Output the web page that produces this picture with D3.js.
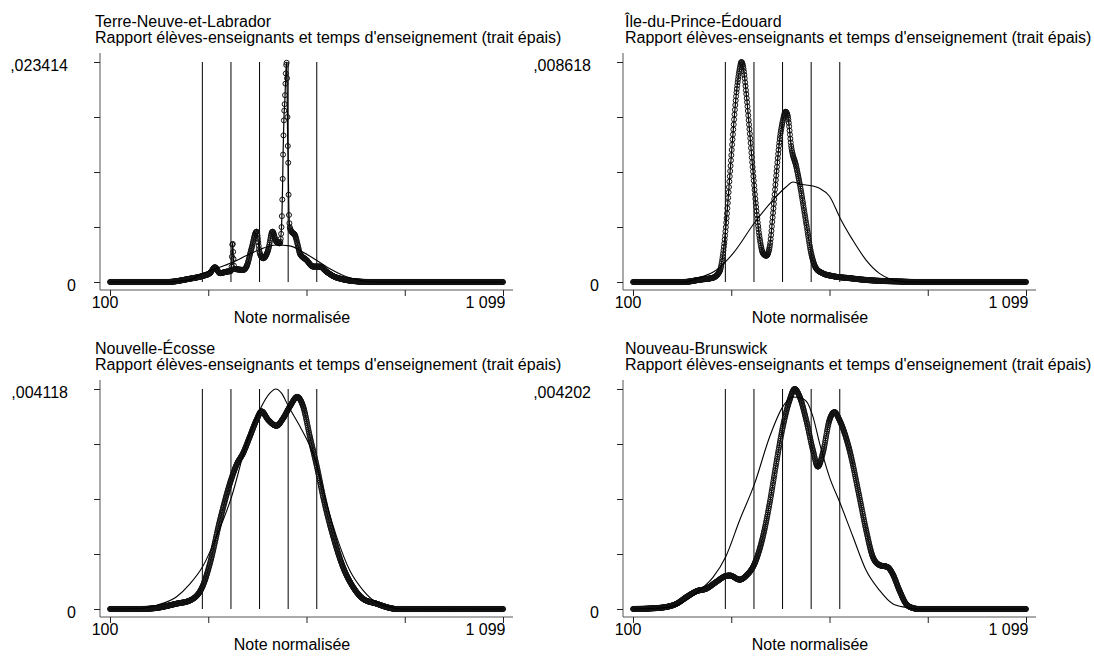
<!DOCTYPE html>
<html>
<head>
<meta charset="utf-8">
<script src="https://d3js.org/d3.v7.min.js"></script>
<style>
  body { margin: 0; background: #fff; }
  svg text { font-family: Arial, "Liberation Sans", sans-serif; font-size: 16px; fill: #000; }
</style>
</head>
<body>
<svg id="chart" width="1094" height="656"></svg>
<script>
/* Four density panels, one per province. The thin line is the reference
   density, the thick one (connected hollow markers) is the
   "rapport élèves-enseignants et temps d'enseignement" model. */

const provinces = ['Terre-Neuve-et-Labrador', 'Île-du-Prince-Édouard', 'Nouvelle-Écosse', 'Nouveau-Brunswick'];
const subtitle = "Rapport élèves-enseignants et temps d'enseignement (trait épais)";
const xTitle = 'Note normalisée';

const scoreTicks = [100, 349.75, 599.5, 849.25, 1099];
const scoreLabels = ['100', '', '', '', '1 099'];
const yMax = [0.023414, 0.008618, 0.004118, 0.004202];
const yMaxLabels = [',023414', ',008618', ',004118', ',004202'];

// vertical reference lines (proficiency level cut scores)
const levelCuts = [334.75, 407.47, 480.18, 552.89, 625.61];

// [score, density]
const nlThin = [[100,0],[250,0],[261,0.00005],[303,0.00023],[334.5,0.00089],[371,0.00145],[409,0.00206],
  [447,0.00281],[481,0.00347],[523,0.00393],[557,0.00384],[591,0.00316],[627,0.00227],[659,0.0014],
  [693,0.0007],[726,0.00028],[752,0.00005],[780,0],[1099,0]];
const nlThick = [[100,0],[244,0],[303,0.00035],[334.5,0.00063],[354,0.00094],[366.7,0.00157],[379.4,0.00094],
  [396.3,0.0011],[407,0.00117],[409,0.00164],[411.5,0.00421],[413.5,0.00281],[416,0.0014],[421.7,0.00136],
  [438.6,0.00129],[447,0.00164],[459.8,0.00358],[472.5,0.00536],[481,0.00304],[489.4,0.00253],[502,0.0034],
  [513,0.00536],[523,0.00428],[531.8,0.00412],[536,0.00585],[538.5,0.00983],[540.2,0.01405],[542,0.01723],
  [544.5,0.01936],[547,0.0222],[548.7,0.023414],[550.4,0.02037],[551.2,0.01653],[553,0.01264],[554.6,0.00766],
  [557,0.00585],[561.4,0.00536],[570,0.00501],[578.3,0.00375],[582.6,0.00304],[599.5,0.00234],[616.4,0.00164],
  [633.4,0.00164],[650.3,0.0011],[667.2,0.00063],[692.6,0.00028],[726.5,0.00007],[760,0],[1099,0]];

const peThin = [[100,0],[227.6,0],[269.9,0.00017],[312.1,0.00047],[354.4,0.00112],[409.3,0.00233],[455.8,0.00321],
  [489.6,0.00373],[506.5,0.00392],[523.4,0.00384],[557.3,0.00376],[574.2,0.00367],[599.5,0.00336],[626.6,0.0025],
  [658.7,0.00164],[692.5,0.00086],[726.3,0.00034],[751.7,0.00013],[777,0.00003],[800,0],[1099,0]];
const peThick = [[100,0],[227.6,0],[269.9,0.00009],[303.7,0.00017],[320.6,0.00043],[329,0.00112],[337.5,0.00241],
  [346,0.00414],[354.4,0.00586],[362.9,0.00741],[371.3,0.00836],[375.5,0.008618],[379.8,0.00845],[388.2,0.00733],
  [396.7,0.00586],[405.1,0.00431],[413.6,0.00284],[422,0.00172],[430.5,0.00112],[438.9,0.00103],[447.4,0.00138],
  [455.8,0.00267],[464.3,0.00422],[472.7,0.00556],[481.2,0.00634],[487.9,0.00667],[493.9,0.00646],[502.3,0.0053],
  [515,0.00452],[523.4,0.00388],[540.3,0.0023],[553,0.00112],[565.6,0.00053],[582.6,0.00034],[608,0.00023],
  [650.2,0.00015],[692.5,0.00008],[734.7,0.00004],[777,0.00002],[820,0],[1099,0]];

const nsThin = [[100,0],[176.2,0.00001],[218.5,0.00007],[269.3,0.00023],[303.2,0.00047],[334.5,0.00078],[370.9,0.00136],
  [409,0.0021],[447.1,0.0031],[481,0.00373],[506.4,0.00404],[521.6,0.004118],[536,0.00404],[553.8,0.00379],
  [582.6,0.00342],[608,0.00305],[626.6,0.00268],[650.3,0.00198],[675.7,0.00136],[709.6,0.00072],[743.4,0.00035],
  [777.3,0.00012],[811.1,0.00004],[840,0],[1099,0]];
const nsThick = [[100,0],[176.2,0],[218.5,0.00002],[269.3,0.0001],[303.2,0.00016],[334.5,0.00041],[354,0.00085],
  [379.4,0.00166],[404.8,0.00235],[421.7,0.0027],[438.6,0.00292],[455.6,0.00323],[472.5,0.00354],[485.2,0.0037],
  [502.1,0.00354],[523.3,0.00343],[540.2,0.00357],[557.2,0.00379],[575.8,0.00397],[591,0.00379],[608,0.00323],
  [626.6,0.00264],[641.8,0.0021],[667.2,0.00136],[692.6,0.00078],[718,0.00041],[743.4,0.00019],[777.3,0.0001],
  [811.1,0.00002],[828,0],[1099,0]];

const nbThin = [[100,0],[185.4,0.00003],[227.6,0.00013],[269.9,0.00036],[303.7,0.00061],[335.8,0.001],[371.3,0.0017],
  [409.3,0.0024],[447.4,0.00329],[481.2,0.00387],[506.5,0.00405],[523.4,0.00404],[540.3,0.00397],[557.2,0.00368],
  [574.2,0.00317],[599.5,0.00252],[626.6,0.00202],[658.7,0.00139],[692.5,0.00074],[726.3,0.00036],[760.1,0.0001],
  [793.9,0.00003],[820,0],[1099,0]];
const nbThick = [[100,0],[143.1,0.00001],[185.4,0.00004],[210.7,0.0001],[236.1,0.00023],[261.4,0.00034],[286.8,0.00039],
  [312.1,0.00052],[335.8,0.00063],[346,0.00064],[371.3,0.00056],[388.2,0.00064],[409.3,0.00087],[430.5,0.00139],
  [447.4,0.00202],[464.3,0.00279],[481.2,0.00349],[498.1,0.00399],[510.8,0.004202],[523.4,0.00406],[540.3,0.00361],
  [557.2,0.00304],[569.9,0.00272],[582.6,0.00298],[599.5,0.00361],[612.2,0.00376],[624.8,0.00361],[650.2,0.00304],
  [675.6,0.00214],[692.5,0.00151],[709.4,0.001],[726.3,0.00084],[747.4,0.0008],[760.1,0.00067],[777,0.00036],
  [793.9,0.0001],[810.8,0.00002],[827.7,0],[1099,0]];

const thinSeries = [nlThin, peThin, nsThin, nbThin];
const thickSeries = [nlThick, peThick, nsThick, nbThick];

/* panel geometry: two columns, two rows */
const COLS = [{axisX: 100, titleX: 95, xTitleX: 292}, {axisX: 623, titleX: 625, xTitleX: 810}];
const ROWS = [{top: 62, bottom: 282, axisY: 290}, {top: 389, bottom: 609, axisY: 617}];

const svg = d3.select('#chart');

/* one marker per score point, taken along the drawn thick curve */
function sampleMarkers(node, x) {
  const total = node.getTotalLength();
  const pts = [];
  let score = 100, len = 0;
  while (len <= total && score <= 1099) {
    const p = node.getPointAtLength(len);
    if (p.x >= x(score) - 0.01) { pts.push([p.x, p.y]); score += 1; }
    else len += 0.25;
  }
  if (score <= 1099) {
    const p = node.getPointAtLength(total);
    pts.push([p.x, p.y]);
  }
  return pts;
}

function makePanel(i) {
  const col = COLS[i % 2], row = ROWS[Math.floor(i / 2)];
  const g = svg.append('g');

  const x = d3.scaleLinear().domain([100, 1099]).range([col.axisX + 10, col.axisX + 403]);
  const y = d3.scaleLinear().domain([0, yMax[i]]).range([row.bottom, row.top]);

  // titles
  g.append('text').attr('x', col.titleX).attr('y', row.top - 35).text(provinces[i]);
  g.append('text').attr('x', col.titleX).attr('y', row.top - 19).text(subtitle);

  // axis lines
  g.append('line')
    .attr('x1', col.axisX).attr('x2', col.axisX)
    .attr('y1', row.top - 9).attr('y2', row.axisY)
    .attr('stroke', '#555');
  g.append('line')
    .attr('x1', col.axisX).attr('x2', col.axisX + 413)
    .attr('y1', row.axisY).attr('y2', row.axisY)
    .attr('stroke', '#555');

  const yTicks = d3.range(5).map(k => yMax[i] * k / 4);
  const yAxis = g.append('g')
    .attr('transform', `translate(${col.axisX},0)`)
    .call(d3.axisLeft(y).tickValues(yTicks).tickSize(6)
      .tickFormat((d, k) => k === 0 ? '0' : (k === 4 ? yMaxLabels[i] : '')));
  yAxis.select('.domain').remove();
  yAxis.selectAll('line').attr('stroke', '#222');
  yAxis.selectAll('text').attr('x', (d, k) => k === 0 ? -24 : -32).attr('dy', '0.5em');

  const xAxis = g.append('g')
    .attr('transform', `translate(0,${row.axisY})`)
    .call(d3.axisBottom(x).tickValues(scoreTicks).tickSize(6)
      .tickFormat((d, k) => scoreLabels[k]));
  xAxis.select('.domain').remove();
  xAxis.selectAll('line').attr('stroke', '#222');
  xAxis.selectAll('text')
    .attr('y', 18).attr('dy', 0)
    .attr('x', (d, k) => k === 0 ? -5.5 : 2)
    .attr('text-anchor', (d, k) => k === 0 ? 'middle' : 'end');

  g.append('text')
    .attr('x', col.xTitleX).attr('y', row.axisY + 33)
    .attr('text-anchor', 'middle')
    .text(xTitle);

  // level cut lines
  g.selectAll('.cut').data(levelCuts).join('line')
    .attr('class', 'cut')
    .attr('x1', d => x(d)).attr('x2', d => x(d))
    .attr('y1', y(yMax[i])).attr('y2', y(0))
    .attr('stroke', '#000');

  const line = d3.line().x(d => x(d[0])).y(d => y(d[1])).curve(d3.curveMonotoneX);

  // thick curve: connected hollow markers
  const thick = g.append('path')
    .datum(thickSeries[i])
    .attr('d', line)
    .attr('fill', 'none')
    .attr('stroke', '#000')
    .attr('stroke-width', 1.2);

  g.append('g').selectAll('circle')
    .data(sampleMarkers(thick.node(), x))
    .join('circle')
    .attr('cx', d => d[0]).attr('cy', d => d[1])
    .attr('r', 2.5)
    .attr('fill', 'none')
    .attr('stroke', '#111')
    .attr('stroke-width', 1);

  // thin curve
  g.append('path')
    .datum(thinSeries[i])
    .attr('d', line)
    .attr('fill', 'none')
    .attr('stroke', '#000')
    .attr('stroke-width', 1.1);
}

for (let i = 0; i < provinces.length; i++) makePanel(i);
</script>
</body>
</html>
